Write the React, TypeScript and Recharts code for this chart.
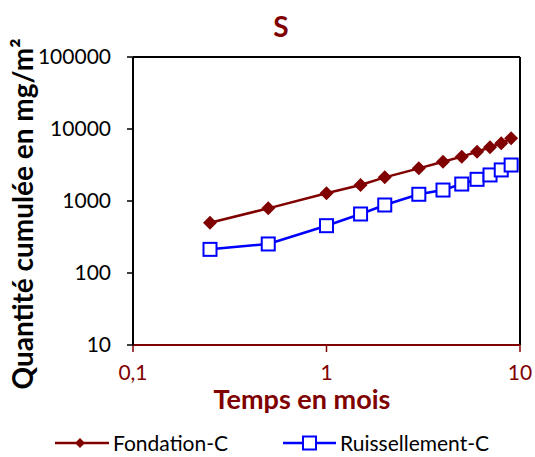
import React from 'react';
import { LineChart, Line, XAxis, YAxis, Legend, Label, ReferenceLine } from 'recharts';

const months = [0.25, 0.5, 1, 1.5, 2, 3, 4, 5, 6, 7, 8, 9];
const fondation = [500, 790, 1280, 1670, 2130, 2840, 3510, 4130, 4840, 5570, 6330, 7430];
const ruissellement = [213, 253, 454, 660, 880, 1240, 1420, 1720, 2000, 2300, 2700, 3160];
const xTicks = [0.1, 1, 10];
const yTicks = [10, 100, 1000, 10000, 100000];

const data = months.map((m, i) => ({ m, fondation: fondation[i], ruissellement: ruissellement[i] }));

const MAROON = '#800000';
const BLUE = '#0000FF';
const FONT = 'Lato, "Open Sans", sans-serif';

const Diamond = (props: any) => {
  const { cx, cy, index } = props;
  if (cx == null || cy == null) return <g key={index} />;
  const r = 7;
  return <path key={index} d={`M${cx},${cy - r}L${cx + r},${cy}L${cx},${cy + r}L${cx - r},${cy}Z`} fill={MAROON} stroke="none" />;
};

const Square = (props: any) => {
  const { cx, cy, index } = props;
  if (cx == null || cy == null) return <g key={index} />;
  const s = 6.5;
  return <rect key={index} x={cx - s} y={cy - s} width={2 * s} height={2 * s} fill="#fff" stroke={BLUE} strokeWidth={2} />;
};

const LegendContent = () => (
  <div style={{ position: 'relative', height: 26, fontFamily: FONT, fontSize: 21, color: '#000', lineHeight: '26px' }}>
    <div style={{ position: 'absolute', left: 55, top: 0, display: 'flex', alignItems: 'center' }}>
      <svg width={54} height={26}>
        <line x1={0} y1={13} x2={54} y2={13} stroke={MAROON} strokeWidth={2.5} />
        <path d="M25,8L30,13L25,18L20,13Z" fill={MAROON} />
      </svg>
      <span style={{ marginLeft: 4 }}>Fondation-C</span>
    </div>
    <div style={{ position: 'absolute', left: 283, top: 0, display: 'flex', alignItems: 'center' }}>
      <svg width={53} height={26}>
        <line x1={0} y1={13} x2={53} y2={13} stroke={BLUE} strokeWidth={2.5} />
        <rect x={20} y={6.5} width={13} height={13} fill="#fff" stroke={BLUE} strokeWidth={2} />
      </svg>
      <span style={{ marginLeft: 4 }}>Ruissellement-C</span>
    </div>
  </div>
);

const fmtX = (v: number) => String(v).replace('.', ',');

export default function App() {
  return (
    <div style={{ position: 'absolute', left: 0, top: 0, width: 535, height: 457, background: '#fff' }}>
      <LineChart width={535} height={457} data={data} margin={{ top: 57, right: 15, bottom: 82, left: 63 }}>
        <XAxis
          dataKey="m"
          type="number"
          scale="log"
          domain={[0.1, 10]}
          ticks={xTicks}
          tickFormatter={fmtX}
          allowDataOverflow
          height={30}
          axisLine={{ stroke: MAROON, strokeWidth: 2 }}
          tickLine={{ stroke: MAROON, strokeWidth: 1.5 }}
          tickSize={7}
          tickMargin={13}
          tick={{ fill: MAROON, fontSize: 21, fontFamily: FONT }}
        >
          <Label
            content={() => (
              <text x={302} y={409} textAnchor="middle" fill={MAROON} fontFamily={FONT} fontWeight="bold" fontSize={27}>
                Temps en mois
              </text>
            )}
          />
        </XAxis>
        <YAxis
          type="number"
          scale="log"
          domain={[10, 100000]}
          ticks={yTicks}
          allowDataOverflow
          width={70}
          axisLine={{ stroke: '#000', strokeWidth: 2 }}
          tickLine={{ stroke: '#000', strokeWidth: 1.5 }}
          tickSize={6}
          tickMargin={16}
          tick={{ fill: '#000', fontSize: 21, fontFamily: FONT }}
        >
          <Label
            content={() => (
              <text
                x={33}
                y={214}
                transform="rotate(-90 33 214)"
                textAnchor="middle"
                fill="#000"
                fontFamily={FONT}
                fontWeight="bold"
                fontSize={28}
              >
                Quantité cumulée en mg/m²
              </text>
            )}
          />
          <Label
            content={() => (
              <text x={281} y={37} textAnchor="middle" fill={MAROON} fontFamily={FONT} fontWeight="bold" fontSize={28}>
                S
              </text>
            )}
          />
        </YAxis>
        <ReferenceLine y={100000} stroke="#000" strokeWidth={2} ifOverflow="visible" />
        <ReferenceLine x={10} stroke="#000" strokeWidth={2} ifOverflow="visible" />
        <Legend
          verticalAlign="middle"
          layout="horizontal"
          content={() => <LegendContent />}
          wrapperStyle={{ position: 'absolute', top: 430, left: 0, width: 535 }}
        />
        <Line
          dataKey="fondation"
          name="Fondation-C"
          stroke={MAROON}
          strokeWidth={2.5}
          dot={Diamond}
          activeDot={false}
          isAnimationActive={false}
        />
        <Line
          dataKey="ruissellement"
          name="Ruissellement-C"
          stroke={BLUE}
          strokeWidth={2.5}
          dot={Square}
          activeDot={false}
          isAnimationActive={false}
        />
      </LineChart>
    </div>
  );
}
